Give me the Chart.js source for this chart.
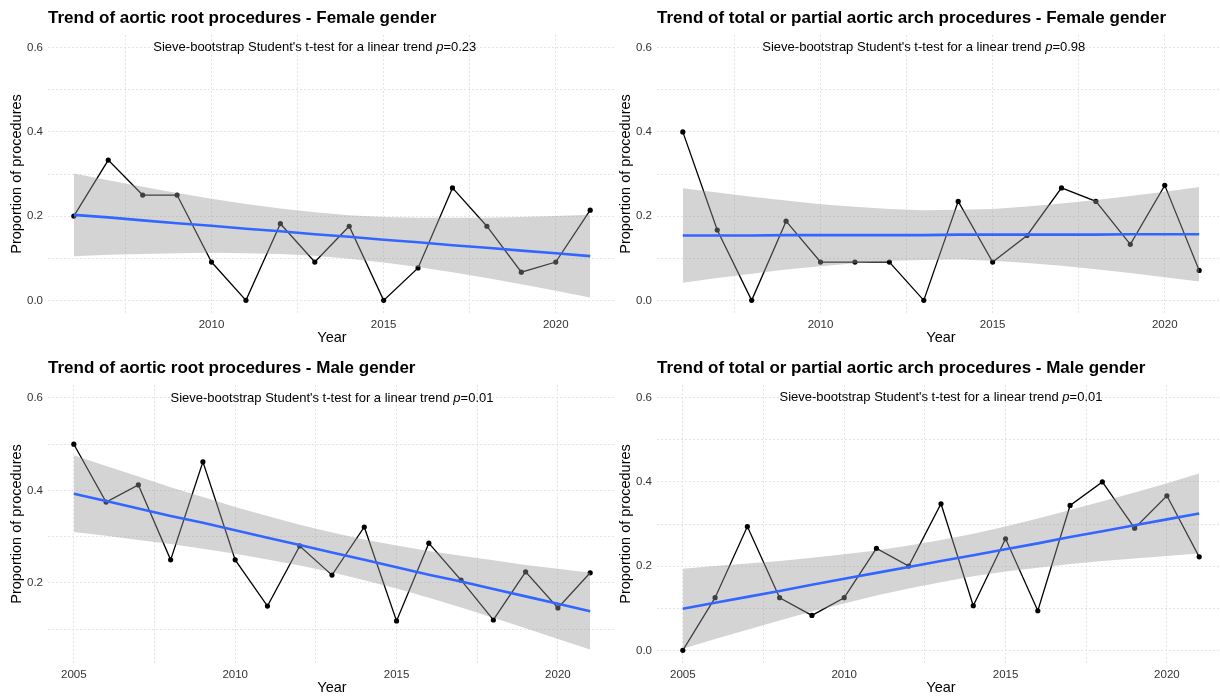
<!DOCTYPE html>
<html>
<head>
<meta charset="utf-8">
<script src="https://cdn.jsdelivr.net/npm/chart.js@4.4.1/dist/chart.umd.min.js"></script>
<style>
  html, body { margin: 0; padding: 0; background: #fff; overflow: hidden; width: 1220px; height: 698px; }
  .panel { position: absolute; width: 620px; height: 349px; }
</style>
</head>
<body>
<div class="panel" style="left:0;top:0"><canvas id="rootFemale"></canvas></div>
<div class="panel" style="left:609px;top:0"><canvas id="archFemale"></canvas></div>
<div class="panel" style="left:0;top:350px"><canvas id="rootMale"></canvas></div>
<div class="panel" style="left:609px;top:350px"><canvas id="archMale"></canvas></div>
<script>
// ===== DATA =====
var yearsF = [2006,2007,2008,2009,2010,2011,2012,2013,2014,2015,2016,2017,2018,2019,2020,2021];
var yearsM = [2005,2006,2007,2008,2009,2010,2011,2012,2013,2014,2015,2016,2017,2018,2019,2020,2021];

var rootF    = [0.200,0.333,0.250,0.250,0.091,0.000,0.182,0.091,0.176,0.000,0.077,0.267,0.176,0.067,0.091,0.214];
var rootFFit = [0.203,0.197,0.190,0.183,0.177,0.170,0.164,0.157,0.151,0.144,0.138,0.131,0.125,0.118,0.112,0.105];
var rootFHi  = [0.301,0.285,0.270,0.255,0.241,0.229,0.218,0.209,0.202,0.198,0.196,0.196,0.196,0.198,0.200,0.203];
var rootFLo  = [0.105,0.108,0.110,0.112,0.113,0.112,0.110,0.106,0.099,0.090,0.079,0.067,0.053,0.038,0.023,0.007];

var archF    = [0.400,0.167,0.000,0.188,0.091,0.091,0.091,0.000,0.235,0.091,0.154,0.267,0.235,0.133,0.273,0.071];
var archFFit = [0.154,0.154,0.154,0.155,0.155,0.155,0.155,0.155,0.156,0.156,0.156,0.156,0.156,0.157,0.157,0.157];
var archFHi  = [0.266,0.256,0.246,0.237,0.228,0.222,0.217,0.214,0.215,0.217,0.223,0.230,0.238,0.248,0.258,0.269];
var archFLo  = [0.042,0.053,0.063,0.073,0.081,0.088,0.094,0.096,0.097,0.094,0.089,0.082,0.074,0.065,0.055,0.045];

var rootM    = [0.500,0.375,0.412,0.250,0.462,0.250,0.150,0.280,0.217,0.321,0.118,0.286,0.206,0.120,0.224,0.146,0.222];
var rootMFit = [0.393,0.377,0.361,0.345,0.330,0.314,0.298,0.282,0.266,0.250,0.234,0.218,0.203,0.187,0.171,0.155,0.139];
var rootMHi  = [0.476,0.453,0.430,0.407,0.386,0.364,0.345,0.326,0.309,0.294,0.281,0.269,0.259,0.249,0.239,0.231,0.222];
var rootMLo  = [0.310,0.302,0.293,0.284,0.274,0.263,0.251,0.238,0.223,0.206,0.188,0.168,0.147,0.125,0.102,0.079,0.056];

var archM    = [0.000,0.125,0.294,0.125,0.083,0.125,0.242,0.200,0.348,0.106,0.265,0.094,0.344,0.400,0.290,0.367,0.222];
var archMFit = [0.099,0.113,0.127,0.141,0.156,0.170,0.184,0.198,0.212,0.226,0.240,0.254,0.269,0.283,0.297,0.311,0.325];
var archMHi  = [0.194,0.200,0.206,0.212,0.220,0.228,0.237,0.249,0.262,0.277,0.294,0.313,0.333,0.354,0.375,0.397,0.420];
var archMLo  = [0.004,0.027,0.049,0.071,0.092,0.111,0.130,0.147,0.162,0.176,0.187,0.196,0.205,0.212,0.218,0.224,0.230];

// grid positions (major + minor) and labelled ticks
var xGridF = [2007.5,2010,2012.5,2015,2017.5,2020];
var xGridM = [2005,2007.5,2010,2012.5,2015,2017.5,2020];
var xLabels = [2005,2010,2015,2020];
var yGridFull = [0,0.1,0.2,0.3,0.4,0.5,0.6];
var yGridRootM = [0.1,0.2,0.3,0.4,0.5,0.6];
var yLabels = [0,0.2,0.4,0.6];

var titles = [
  'Trend of aortic root procedures - Female gender',
  'Trend of total or partial aortic arch procedures - Female gender',
  'Trend of aortic root procedures - Male gender',
  'Trend of total or partial aortic arch procedures - Male gender'
];
var pValues = ['0.23','0.98','0.01','0.01'];
var noteText = "Sieve-bootstrap Student's t-test for a linear trend ";

// ===== HELPERS =====
var FONT = "'Liberation Sans', Arial, Helvetica, sans-serif";

function pts(xs, ys) {
  return xs.map(function(x, i) { return { x: x, y: ys[i] }; });
}

function hasVal(list, v) {
  return list.some(function(t) { return Math.abs(t - v) < 1e-6; });
}

// title + p-value annotation, ggplot style
var panelText = {
  id: 'panelText',
  afterDraw: function(chart) {
    var o = chart.options.plugins.panelText;
    var ctx = chart.ctx, a = chart.chartArea;
    ctx.save();
    ctx.fillStyle = '#000';
    ctx.textBaseline = 'middle';
    ctx.textAlign = 'left';
    ctx.font = 'bold 17px ' + FONT;
    ctx.fillText(o.title, a.left, 18);

    var cx = chart.scales.x.getPixelForValue(o.noteX);
    var cy = chart.scales.y.getPixelForValue(o.noteY);
    var f = '13px ' + FONT, fi = 'italic 13px ' + FONT;
    var s3 = '=' + o.p;
    ctx.font = f;
    var w1 = ctx.measureText(noteText).width, w3 = ctx.measureText(s3).width;
    ctx.font = fi;
    var w2 = ctx.measureText('p').width;
    var x0 = cx - (w1 + w2 + w3) / 2;
    ctx.font = f; ctx.fillText(noteText, x0, cy);
    ctx.font = fi; ctx.fillText('p', x0 + w1, cy);
    ctx.font = f; ctx.fillText(s3, x0 + w1 + w2, cy);
    ctx.restore();
  }
};

function makePanel(id, k, years, obs, fit, hi, lo, xMin, xMax, yMin, yMax, xGrid, yGrid) {
  var grid = { color: '#e4e4e4', lineWidth: 1, drawTicks: false };
  new Chart(document.getElementById(id).getContext('2d'), {
    type: 'line',
    data: { datasets: [
      { label: 'fit', data: pts(years, fit), borderColor: '#3366FF', borderWidth: 2.6, pointRadius: 0, fill: false, tension: 0, order: 0 },
      { label: 'upper', data: pts(years, hi), borderWidth: 0, borderColor: 'rgba(0,0,0,0)', backgroundColor: 'rgba(153,153,153,0.42)', pointRadius: 0, fill: '+1', tension: 0, order: 1 },
      { label: 'lower', data: pts(years, lo), borderWidth: 0, borderColor: 'rgba(0,0,0,0)', pointRadius: 0, fill: false, tension: 0, order: 2 },
      { label: 'observed', data: pts(years, obs), borderColor: '#000', borderWidth: 1.3, pointRadius: 2.6, pointBackgroundColor: '#000', pointBorderWidth: 0, fill: false, tension: 0, order: 3 }
    ]},
    options: {
      responsive: true, maintainAspectRatio: false, animation: false,
      layout: { padding: { top: 35, right: 2, left: 0, bottom: 0 } },
      plugins: {
        legend: { display: false }, tooltip: { enabled: false },
        panelText: { title: titles[k], p: pValues[k], noteX: 2013, noteY: 0.6 }
      },
      scales: {
        x: {
          type: 'linear', min: xMin, max: xMax,
          grid: grid, border: { display: false, dash: [2, 2] },
          afterBuildTicks: function(ax) { ax.ticks = xGrid.map(function(v) { return { value: v }; }); },
          afterFit: function(ax) { ax.height = 36; },
          ticks: { autoSkip: false, maxRotation: 0, padding: 5, color: '#333', font: { family: FONT, size: 11.5 },
            callback: function(v) { return hasVal(xLabels, v) ? String(v) : ''; } },
          title: { display: true, text: 'Year', color: '#000', font: { family: FONT, size: 14.5 }, padding: { top: 0, bottom: 2 } }
        },
        y: {
          type: 'linear', min: yMin, max: yMax,
          grid: grid, border: { display: false, dash: [2, 2] },
          afterBuildTicks: function(ax) { ax.ticks = yGrid.map(function(v) { return { value: v }; }); },
          afterFit: function(ax) { ax.width = 48; },
          ticks: { autoSkip: false, padding: 5, color: '#333', font: { family: FONT, size: 11.5 },
            callback: function(v) { return hasVal(yLabels, v) ? v.toFixed(1) : ''; } },
          title: { display: true, text: 'Proportion of procedures', color: '#000', font: { family: FONT, size: 14.5 }, padding: { top: 8, bottom: 0 } }
        }
      }
    },
    plugins: [panelText]
  });
}

makePanel('rootFemale', 0, yearsF, rootF, rootFFit, rootFHi, rootFLo, 2005.25, 2021.75, -0.03, 0.63, xGridF, yGridFull);
makePanel('archFemale', 1, yearsF, archF, archFFit, archFHi, archFLo, 2005.25, 2021.75, -0.03, 0.63, xGridF, yGridFull);
makePanel('rootMale',   2, yearsM, rootM, rootMFit, rootMHi, rootMLo, 2004.2, 2021.8, 0.027, 0.628, xGridM, yGridRootM);
makePanel('archMale',   3, yearsM, archM, archMFit, archMHi, archMLo, 2004.2, 2021.8, -0.03, 0.63, xGridM, yGridFull);
</script>
</body>
</html>
